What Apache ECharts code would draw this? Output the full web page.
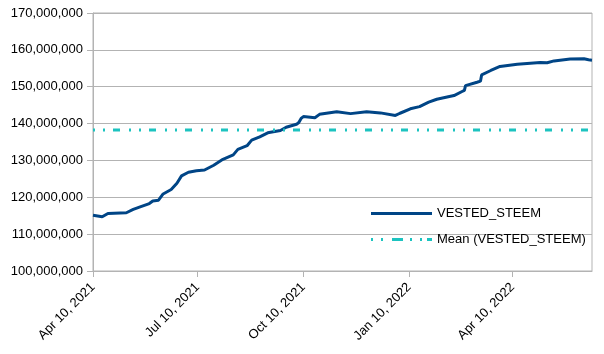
<!DOCTYPE html>
<html>
<head>
<meta charset="utf-8">
<script src="https://cdn.jsdelivr.net/npm/echarts@6/dist/echarts.min.js"></script>
<style>
  html, body { margin: 0; padding: 0; background: #fff; }
  #chart { width: 604px; height: 354px; }
</style>
</head>
<body>
<div id="chart"></div>
<script>
// dates, values in STEEM
const dates = [
  "2021-04-10", "2021-04-18", "2021-04-23", "2021-05-09", "2021-05-15", "2021-05-21",
  "2021-05-29", "2021-06-01", "2021-06-06", "2021-06-10", "2021-06-17", "2021-06-22",
  "2021-06-26", "2021-07-02", "2021-07-09", "2021-07-16", "2021-07-24", "2021-08-01",
  "2021-08-10", "2021-08-14", "2021-08-22", "2021-08-26", "2021-09-02", "2021-09-09",
  "2021-09-20", "2021-09-25", "2021-10-04", "2021-10-06", "2021-10-08", "2021-10-10",
  "2021-10-20", "2021-10-24", "2021-11-08", "2021-11-20", "2021-12-04", "2021-12-16",
  "2021-12-29", "2022-01-02", "2022-01-11", "2022-01-19", "2022-01-27", "2022-02-03",
  "2022-02-18", "2022-02-25", "2022-02-27", "2022-02-28", "2022-03-10", "2022-03-13",
  "2022-03-14", "2022-03-22", "2022-03-30", "2022-04-14", "2022-05-04", "2022-05-10",
  "2022-05-16", "2022-05-30", "2022-06-11", "2022-06-15", "2022-06-18"
];
const vestedSteem = [
  115.1, 114.7, 115.6, 115.8, 116.7, 117.4,
  118.3, 119.0, 119.2, 120.9, 122.1, 123.8,
  125.8, 126.8, 127.2, 127.4, 128.7, 130.3,
  131.5, 133.0, 134.0, 135.5, 136.4, 137.5,
  138.1, 139.0, 139.8, 140.3, 141.4, 141.9,
  141.6, 142.5, 143.2, 142.7, 143.2, 142.9,
  142.2, 142.8, 144.0, 144.6, 145.8, 146.6,
  147.6, 148.7, 149.0, 150.3, 151.2, 151.5,
  153.2, 154.4, 155.5, 156.1, 156.6, 156.5,
  157.0, 157.5, 157.6, 157.3, 157.2
].map(v => v * 1e6);
const meanValue = 138260000;
const tickDates = ["2021-04-10", "2021-07-10", "2021-10-10", "2022-01-10", "2022-04-10"];
const xStart = "2021-04-10";
const xEnd = "2022-06-18";
const seriesNames = ["VESTED_STEEM", "Mean (VESTED_STEEM)"];

const ts = s => new Date(s + "T00:00:00").getTime();
const months = ["Jan", "Feb", "Mar", "Apr", "May", "Jun", "Jul", "Aug", "Sep", "Oct", "Nov", "Dec"];
const font = "'Liberation Sans', Arial, sans-serif";

const chart = echarts.init(document.getElementById("chart"));
chart.setOption({
  animation: false,
  textStyle: { fontFamily: font },
  grid: {
    left: 93, right: 12, top: 13, bottom: 83,
    show: true, borderColor: "#b3b3b3", borderWidth: 1
  },
  legend: {
    orient: "vertical",
    left: 366,
    top: 202,
    itemWidth: 61,
    itemHeight: 3,
    itemGap: 13,
    textStyle: { fontFamily: font, fontSize: 13, color: "#000" },
    data: [
      { name: seriesNames[0], icon: "rect" },
      { name: seriesNames[1], icon: "path://M0,0h2v3h-2zM10,0h2v3h-2zM21,0h11v3h-11zM39,0h2v3h-2zM49,0h2v3h-2zM56,0h5v3h-5z" }
    ]
  },
  xAxis: {
    // timestamps on a value axis so the ticks can sit on the 10th of each quarter
    type: "value",
    min: ts(xStart),
    max: ts(xEnd),
    splitLine: { show: false },
    axisLine: { lineStyle: { color: "#b3b3b3" } },
    axisTick: { show: true, length: 6, lineStyle: { color: "#b3b3b3" }, customValues: tickDates.map(ts) },
    axisLabel: {
      customValues: tickDates.map(ts),
      rotate: 45,
      margin: 14,
      fontSize: 13,
      color: "#000",
      fontFamily: font,
      formatter: v => {
        const d = new Date(v);
        return months[d.getMonth()] + " " + d.getDate() + ", " + d.getFullYear();
      }
    }
  },
  yAxis: {
    type: "value",
    min: 100000000,
    max: 170000000,
    interval: 10000000,
    axisLine: { show: true, lineStyle: { color: "#b3b3b3" } },
    axisTick: { show: true, length: 6, lineStyle: { color: "#b3b3b3" } },
    splitLine: { lineStyle: { color: "#b3b3b3" } },
    axisLabel: {
      margin: 10,
      fontSize: 13,
      color: "#000",
      fontFamily: font,
      formatter: v => v.toLocaleString("en-US")
    }
  },
  series: [
    {
      name: seriesNames[0],
      type: "line",
      symbol: "none",
      color: "#004586",
      lineStyle: { width: 3, color: "#004586" },
      data: dates.map((d, i) => [ts(d), vestedSteem[i]])
    },
    {
      name: seriesNames[1],
      type: "line",
      symbol: "none",
      color: "#1cc3c0",
      lineStyle: { width: 3, color: "#1cc3c0", type: [2, 8, 2, 8, 7, 9] },
      data: [[ts(xStart), meanValue], [ts(xEnd), meanValue]]
    }
  ]
});
</script>
</body>
</html>
